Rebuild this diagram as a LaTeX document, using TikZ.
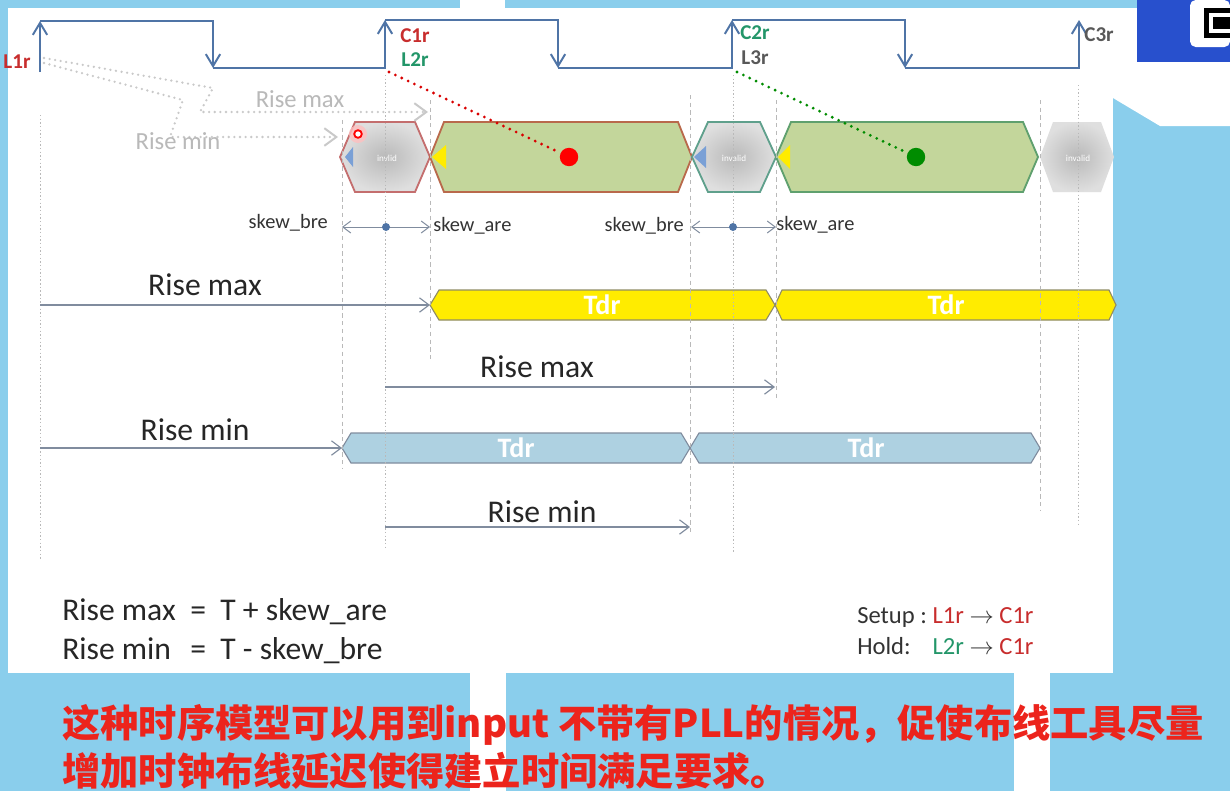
\documentclass[tikz,border=0pt]{standalone}
\usepackage{fontspec}
\setmainfont{Carlito}
\newfontfamily\cjk{Noto Sans CJK SC}
\usepackage{tikz}
\usetikzlibrary{arrows.meta,positioning,calc}
\usepackage{xcolor}
\definecolor{bgblue}{RGB}{138,206,236}
\definecolor{qrblue}{RGB}{40,80,205}
\definecolor{clkblue}{RGB}{79,116,166}
\definecolor{arrgray}{RGB}{128,140,158}
\definecolor{hexgreen}{RGB}{195,214,155}
\definecolor{hexred}{RGB}{196,110,110}
\definecolor{hexbrown}{RGB}{185,105,75}
\definecolor{hexteal}{RGB}{95,160,140}
\definecolor{hexleaf}{RGB}{95,160,110}
\definecolor{tdryellow}{RGB}{255,236,0}
\definecolor{tdrblue}{RGB}{174,209,225}
\definecolor{tipblue}{RGB}{122,160,214}
\definecolor{sigred}{RGB}{200,45,45}
\definecolor{siggreen}{RGB}{35,150,105}
\definecolor{capred}{RGB}{236,36,28}
\newcommand{\hexcell}[6]{\draw[#1] (#2,#4) -- ({#2+#6},{#4-#5}) -- ({#3-#6},{#4-#5}) -- (#3,#4) -- ({#3-#6},{#4+#5}) -- ({#2+#6},{#4+#5}) -- cycle;}

\begin{document}
\begin{tikzpicture}[x=0.25mm, y=-0.25mm,
  clk/.style={draw=clkblue, line width=1.8pt, line join=miter,
    -{Straight Barb[length=3mm, width=3.6mm, line width=1.4pt]}},
  dotguide/.style={draw=gray!55, line width=0.5pt, dash pattern=on 1pt off 1.6pt},
  dashguide/.style={draw=gray!55, line width=0.5pt, dash pattern=on 3pt off 2.5pt},
  risearr/.style={draw=arrgray, line width=0.8pt, -{Straight Barb[length=2.4mm, width=3.6mm]}},
  skewarr/.style={draw=arrgray, line width=0.7pt,
    {Straight Barb[length=2mm, width=3mm]}-{Straight Barb[length=2mm, width=3mm]}},
  ghost/.style={draw=gray!42, line width=1.8pt, dash pattern=on 0pt off 4pt, line cap=round},
  ghostarr/.style={ghost, -{Straight Barb[length=3mm, width=4.4mm, line width=1.4pt]}},
  pathdots/.style={line width=2.2pt, dash pattern=on 0pt off 5pt, line cap=round},
  invcell/.style={line width=1.3pt, inner color=gray!55, outer color=gray!25},
  datacell/.style={line width=1.3pt, fill=hexgreen},
  ybar/.style={draw=gray!70!olive, line width=0.8pt, fill=tdryellow},
  bbar/.style={draw=arrgray, line width=0.8pt, fill=tdrblue},
  lbl/.style={font=\fontsize{22.5}{26}\selectfont, text=black!85, inner sep=0pt},
  ghostlbl/.style={font=\fontsize{17.5}{21}\selectfont, text=gray!55, inner sep=0pt},
  sig/.style={font=\fontsize{15}{18}\selectfont\bfseries, inner sep=0pt},
  skewlbl/.style={font=\fontsize{14.5}{17}\selectfont, text=black!80, inner sep=0pt},
  tdrtxt/.style={font=\fontsize{20}{24}\selectfont\bfseries, text=white, inner sep=0pt},
  invtxt/.style={font=\fontsize{6.5}{8}\selectfont, text=white, inner sep=0pt},
  capline/.style={font=\cjk\bfseries\fontsize{27.2}{32}\selectfont, text=capred, inner sep=0pt, anchor=west}
]
\useasboundingbox (0,0) rectangle (1230,791);

% backdrop of the slide
\fill[bgblue] (0,0) rectangle (1230,791);
\fill[white] (8,8) rectangle (1113,673);
\fill[white] (1113,8) -- (1137,8) -- (1137,62) -- (1230,62) -- (1230,126) -- (1160,126) -- (1113,98) -- cycle;
\fill[white] (460,0) rectangle (505,8);
\fill[white] (470,673) rectangle (506,791);
\fill[white] (1014,673) rectangle (1050,791);
\fill[qrblue] (1137,0) rectangle (1230,62);
\fill[white, rounded corners=4pt] (1190,0) rectangle (1230,47);
\fill[black] (1204,8) rectangle (1230,38);
\fill[white] (1209,13) rectangle (1230,33);
\fill[black] (1213,17) rectangle (1230,29);

% clock
\draw[clk] (40,72) -- (40,21);
\draw[clk] (40,21) -- (213,21) -- (213,68);
\draw[clk] (213,68) -- (385,68) -- (385,20);
\draw[clk] (385,20) -- (558,20) -- (558,68);
\draw[clk] (558,68) -- (732,68) -- (732,20);
\draw[clk] (732,20) -- (905,20) -- (905,68);
\draw[clk] (905,68) -- (1079,68) -- (1079,20);

\node[sig, text=sigred] (l1r) at (17,62) {L1r};
\node[sig, text=sigred] (c1r) at (415,36) {C1r};
\node[sig, text=siggreen] (l2r) at (415,60) {L2r};
\node[sig, text=siggreen] (c2r) at (755,33) {C2r};
\node[sig, text=black!65] (l3r) at (755,58) {L3r};
\node[sig, text=black!65] (c3r) at (1099,35) {C3r};

% data cells
\hexcell{invcell, draw=hexred}{340}{430}{157}{35}{15}
\hexcell{datacell, draw=hexbrown}{430}{692}{157}{35}{14}
\hexcell{invcell, draw=hexteal}{692}{776}{157}{35}{16}
\hexcell{datacell, draw=hexleaf}{776}{1038}{157}{35}{15}
\hexcell{invcell, draw=none}{1040}{1114}{157}{35}{13}
\fill[tipblue] (345,157) -- (353,147) -- (353,167) -- cycle;
\fill[tdryellow] (432,157) -- (446,145) -- (446,169) -- cycle;
\fill[tipblue] (694,157) -- (706,146) -- (706,168) -- cycle;
\fill[tdryellow] (778,157) -- (790,145) -- (790,169) -- cycle;
\node[invtxt] (inv1) at (387,158) {invlid};
\node[invtxt] (inv2) at (734,158) {invalid};
\node[invtxt] (inv3) at (1078,158) {invalid};
\node[circle, fill=red!25, minimum size=4.5mm, inner sep=0pt, opacity=0.8] (cursor) at (358,134) {};
\node[circle, draw=red, line width=1.3pt, fill=white, minimum size=1.9mm, inner sep=0pt] at (cursor) {};
\node[circle, fill=red, minimum size=4.6mm, inner sep=0pt] (dot1) at (569,157) {};
\node[circle, fill=green!55!black, minimum size=4.6mm, inner sep=0pt] (dot2) at (916,157) {};

% Tdr bars
\hexcell{ybar}{430}{775}{305}{15}{9}
\hexcell{ybar}{775}{1116}{305}{15}{7}
\hexcell{bbar}{342}{690}{448}{15}{9}
\hexcell{bbar}{690}{1040}{448}{15}{9}
\node[tdrtxt] (tdr1) at (602,305) {Tdr};
\node[tdrtxt] (tdr2) at (946,305) {Tdr};
\node[tdrtxt] (tdr3) at (516,448) {Tdr};
\node[tdrtxt] (tdr4) at (866,448) {Tdr};

% guides
\draw[dotguide] (40,115) -- (40,560);
\draw[dashguide] (342,120) -- (342,468);
\draw[dotguide] (385,75) -- (385,550);
\draw[dashguide] (430,100) -- (430,360);
\draw[dashguide] (690,95) -- (690,535);
\draw[dotguide] (733,75) -- (733,553);
\draw[dashguide] (776,100) -- (776,400);
\draw[dashguide] (1040,100) -- (1040,510);
\draw[dotguide] (1078,85) -- (1078,525);

% launch paths
\coordinate (l1foot) at (44,58);
\coordinate (l1foot2) at (44,63);
\coordinate (maxend) at (428,112);
\coordinate (minend) at (338,137);
\draw[ghostarr] (l1foot) -- (213,88) -- (200,112) -- (maxend);
\draw[ghostarr] (l1foot2) -- (183,100) -- (170,137) -- (minend);
\node[ghostlbl] (gmax) at (300,99) {Rise max};
\node[ghostlbl] (gmin) at (178,141) {Rise min};
\coordinate (c1foot) at (389,72);
\coordinate (c2foot) at (737,72);
\draw[pathdots, draw=red!85!black] (c1foot) -- (dot1);
\draw[pathdots, draw=green!55!black] (c2foot) -- (dot2);

% skew
\coordinate (sk1a) at (342,227);
\coordinate (sk1b) at (430,227);
\coordinate (sk2a) at (691,227);
\coordinate (sk2b) at (776,227);
\draw[skewarr] (sk1a) -- (sk1b);
\draw[skewarr] (sk2a) -- (sk2b);
\node[circle, fill=clkblue, minimum size=2mm, inner sep=0pt] (sk1c) at (386,227) {};
\node[circle, fill=clkblue, minimum size=2mm, inner sep=0pt] (sk2c) at (733,227) {};
\node[skewlbl, anchor=east] (bre1) at (328,223) {skew\_bre};
\node[skewlbl, anchor=west] (are1) at (433,226) {skew\_are};
\node[skewlbl, anchor=east] (bre2) at (684,226) {skew\_bre};
\node[skewlbl, anchor=west] (are2) at (776,225) {skew\_are};

% rise arrows
\coordinate (m1a) at (40,305);
\coordinate (m2a) at (385,387);
\coordinate (n1a) at (40,448);
\coordinate (n2a) at (385,527);
\coordinate (m2b) at (775,387);
\coordinate (n2b) at (690,527);
\draw[risearr] (m1a) -- (430,305);
\draw[risearr] (m2a) -- (m2b);
\draw[risearr] (n1a) -- (342,448);
\draw[risearr] (n2a) -- (n2b);
\node[lbl] (max1) at (205,285) {Rise max};
\node[lbl] (max2) at (537,367) {Rise max};
\node[lbl] (min1) at (195,430) {Rise min};
\node[lbl] (min2) at (542,512) {Rise min};

% formulas
\node[lbl, anchor=west] (fmax) at (62,612) {\makebox[4.05em][l]{Rise max}=\ \ T + skew\_are};
\node[lbl, anchor=west] (fmin) at (62,651) {\makebox[4.05em][l]{Rise min}=\ \ T - skew\_bre};
\node[font=\fontsize{17.5}{21}\selectfont, text=black!80, inner sep=0pt, anchor=west] (setup) at (857,617)
  {\makebox[3.06em][l]{Setup :}\textcolor{sigred}{L1r} $\rightarrow$ \textcolor{sigred}{C1r}};
\node[font=\fontsize{17.5}{21}\selectfont, text=black!80, inner sep=0pt, anchor=west] (hold) at (857,646)
  {\makebox[3.06em][l]{Hold:}\textcolor{siggreen}{L2r} $\rightarrow$ \textcolor{sigred}{C1r}};

% caption
\node[capline] (cap1) at (62,725) {这种时序模型可以用到input 不带有PLL的情况，促使布线工具尽量};
\node[capline] (cap2) at (62,771) {增加时钟布线延迟使得建立时间满足要求。};
\end{tikzpicture}
\end{document}
